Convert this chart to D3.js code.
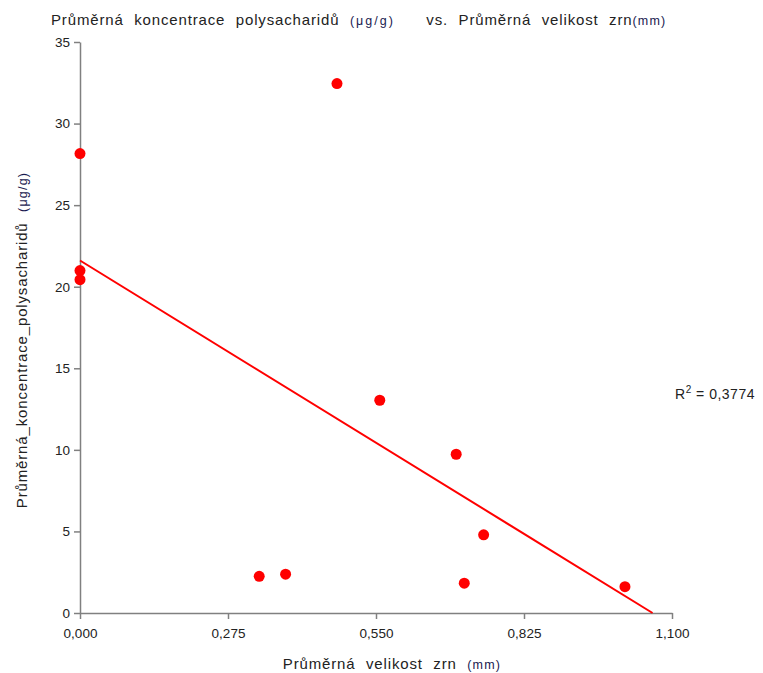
<!DOCTYPE html>
<html>
<head>
<meta charset="utf-8">
<script src="https://cdn.jsdelivr.net/npm/d3@7"></script>
<style>
    body { margin: 0; background: #fff; }
    svg { font-family: "Liberation Sans", Arial, sans-serif; }
    .label { font-size: 15px; letter-spacing: 0.85px; word-spacing: 5.5px; fill: #222; }
    .unit { font-size: 12.5px; letter-spacing: 1.2px; word-spacing: 0; fill: #1a1a50; }
    .unit.wide { letter-spacing: 2px; }
</style>
</head>
<body>
<svg id="chart" width="763" height="673"></svg>
<script>
const grainSize = [0, 0, 0, 0.4775, 0.557, 0.699, 0.750, 0.333, 0.382, 0.714, 1.0126]
const polysaccharides = [28.16, 20.99, 20.43, 32.45, 13.04, 9.73, 4.79, 2.25, 2.38, 1.83, 1.61]
const xTicks = [0, 0.275, 0.55, 0.825, 1.1]
const yTicks = [0, 5, 10, 15, 20, 25, 30, 35]
const rSquaredLabel = '0,3774'

const margin = { left: 80, right: 91, top: 42, bottom: 60 }
const width = 763
const height = 673

function fitLine(xs, ys) {
    const mx = d3.mean(xs)
    const my = d3.mean(ys)
    const sxy = d3.sum(xs, (x, i) => (x - mx) * (ys[i] - my))
    const sxx = d3.sum(xs, x => (x - mx) ** 2)
    const slope = sxy / sxx
    return { slope, intercept: my - slope * mx }
}

function main() {
    const chart = d3.select('#chart')
    const points = grainSize.map((x, i) => ({ x, y: polysaccharides[i] }))

    const x = d3.scaleLinear().domain([0, 1.1]).range([margin.left, width - margin.right])
    const y = d3.scaleLinear().domain([0, 35]).range([height - margin.bottom, margin.top])
    const fmt = d3.format('.3f')

    const xAxis = chart.append('g')
        .attr('transform', `translate(0,${y(0)})`)
        .call(d3.axisBottom(x).tickValues(xTicks).tickSize(6).tickSizeOuter(0).tickFormat(d => fmt(d).replace('.', ',')))
    const yAxis = chart.append('g')
        .attr('transform', `translate(${x(0)},0)`)
        .call(d3.axisLeft(y).tickValues(yTicks).tickSize(6).tickSizeOuter(0))

    for (const g of [xAxis, yAxis]) {
        g.selectAll('path, line').attr('stroke', '#808080').attr('stroke-width', 1.5)
        g.selectAll('text').attr('fill', '#222').style('font-size', '13.5px')
            .style('font-family', '"Liberation Sans", Arial, sans-serif')
    }
    xAxis.selectAll('text').attr('dy', '1.2em')
    yAxis.selectAll('text').attr('x', -10)

    const { slope, intercept } = fitLine(grainSize, polysaccharides)
    const xEnd = Math.min(1.1, -intercept / slope)
    chart.append('line')
        .attr('x1', x(0)).attr('y1', y(intercept))
        .attr('x2', x(xEnd)).attr('y2', y(intercept + slope * xEnd))
        .attr('stroke', '#ff0000')
        .attr('stroke-width', 2)

    chart.selectAll()
        .data(points)
        .enter()
        .append('circle')
        .attr('cx', d => x(d.x))
        .attr('cy', d => y(d.y))
        .attr('r', 5.5)
        .attr('fill', '#ff0000')

    const title = chart.append('text').attr('class', 'label')
        .attr('x', 51).attr('y', 25)
    title.append('tspan').text('Průměrná koncentrace polysacharidů ')
    title.append('tspan').attr('class', 'unit wide').text('(μg/g)')
    title.append('tspan').text('\u00a0\u00a0 vs. Průměrná velikost zrn')
    title.append('tspan').attr('class', 'unit').text('(mm)')

    const xLabel = chart.append('text').attr('class', 'label')
        .attr('x', 392).attr('y', 669).attr('text-anchor', 'middle')
    xLabel.append('tspan').text('Průměrná velikost zrn ')
    xLabel.append('tspan').attr('class', 'unit').text('(mm)')

    const yLabel = chart.append('text').attr('class', 'label')
        .attr('transform', 'translate(27,340) rotate(-90)').attr('text-anchor', 'middle')
    yLabel.append('tspan').text('Průměrná_koncentrace_polysacharidů ')
    yLabel.append('tspan').attr('class', 'unit').text('(μg/g)')

    const r2 = chart.append('text')
        .attr('x', 675).attr('y', 399)
        .style('font-size', '14px').style('letter-spacing', '0.5px').attr('fill', '#222')
    r2.append('tspan').text('R')
    r2.append('tspan').attr('dy', -6).style('font-size', '10px').text('2')
    r2.append('tspan').attr('dy', 6).text(` = ${rSquaredLabel}`)
}

main()
</script>
</body>
</html>
